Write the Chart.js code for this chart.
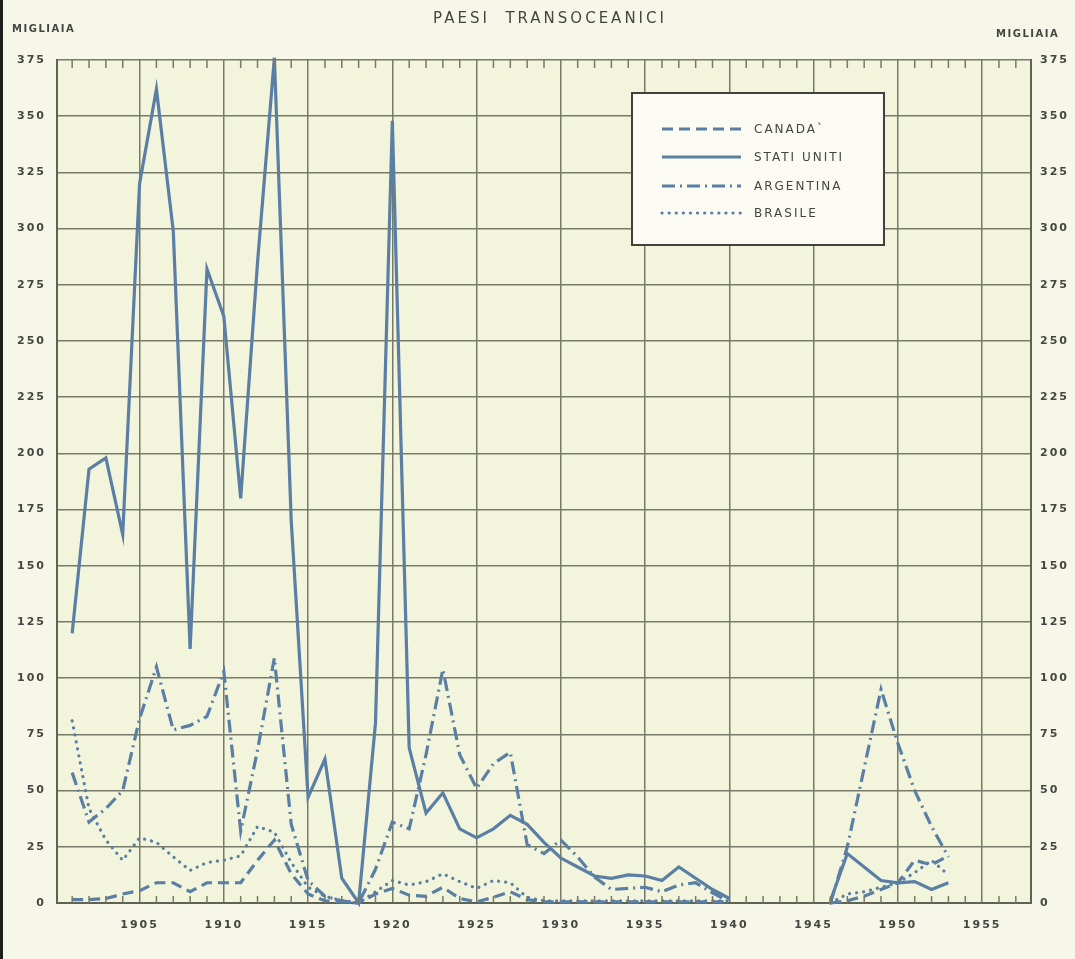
<!DOCTYPE html>
<html>
<head>
<meta charset="utf-8">
<script src="https://cdn.jsdelivr.net/npm/chart.js@4/dist/chart.umd.min.js"></script>
<style>
  html, body { margin: 0; padding: 0; background: #f6f7e8; }
  #wrap { width: 1075px; height: 959px; position: relative; }
</style>
</head>
<body>
<div id="wrap"><canvas id="chart" width="1075" height="959"></canvas></div>
<script>
// ===== DATI (migliaia di espatriati) =====
const anni = [];
for (let a = 1901; a <= 1953; a++) anni.push(a);

const canada = [1.5, 1.5, 2, 4, 5.5, 9, 9, 5, 9, 9,
  9, 19, 28, 13, 4, 1, 0.5, 0, 4, 6.5,
  3.5, 3, 7, 2, 0.5, 2.5, 5, 1.5, 0.5, 0.5,
  0.5, 0.5, 0.5, 0.5, 0.5, 0.5, 0.5, 0.5, 0.5, 0.5,
  null, null, null, null, null,
  0, 1, 3, 6, 9, 19, 17, 21];

const statiUniti = [120, 193, 198, 164, 320, 362, 299, 113, 282, 261,
  180, 285, 376, 170, 47, 64, 11, 0, 80, 348,
  69, 40, 49, 33, 29, 33, 39, 35, 27, 20,
  16, 12, 11, 12.5, 12, 10, 16, 11, 6, 2,
  null, null, null, null, null,
  1, 22, 16, 10, 9, 9.5, 6, 9];

const argentina = [58, 36, 42, 50, 82, 105, 77, 79, 83, 103,
  32, 68, 109, 35, 10, 3, 1, 0, 15, 36,
  33, 66, 104, 66, 51, 62, 67, 26, 22, 28,
  20.5, 11.5, 6, 6.5, 7, 5, 8, 9, 4.5, 0.5,
  null, null, null, null, null,
  0, 25, 60, 95, 71, 50, 34, 20.5];

const brasile = [81, 42, 28, 19, 29, 27, 20.5, 14.5, 18, 19,
  21, 34, 31.5, 18, 7, 3, 1, 0, 5, 10,
  8, 9.5, 13, 9.5, 6.5, 10, 9, 2.5, 1, 1,
  1, 1, 1, 1, 1, 1, 1, 1, 1, 1,
  null, null, null, null, null,
  0, 4, 5, 7, 9, 13.5, 19, 12.5];

const xTicks = [1905, 1910, 1915, 1920, 1925, 1930, 1935, 1940, 1945, 1950, 1955];
const yTicks = [0, 25, 50, 75, 100, 125, 150, 175, 200, 225, 250, 275, 300, 325, 350, 375];

const BLU = "#5a7ea4";
const GRIGLIA = "#777a68";
const TESTO = "#454543";
const FONT = "'DejaVu Sans', sans-serif";

const punti = arr => anni.map((a, i) => ({ x: a, y: arr[i] }));

const serie = [
  { label: "CANADA`", data: punti(canada), borderDash: [11, 6], borderCapStyle: "butt" },
  { label: "STATI UNITI", data: punti(statiUniti), borderDash: [], borderCapStyle: "butt" },
  { label: "ARGENTINA", data: punti(argentina), borderDash: [13, 5, 2, 5], borderCapStyle: "butt" },
  { label: "BRASILE", data: punti(brasile), borderDash: [0.1, 7], borderCapStyle: "round" }
].map(s => Object.assign({
  borderColor: BLU, borderWidth: 3.2, pointRadius: 0, tension: 0,
  spanGaps: false, clip: false, fill: false
}, s));

// ===== PLUGIN: sfondo, tacche, testi, legenda =====
const decorazioni = {
  id: "decorazioni",
  beforeDraw(chart) {
    const { ctx, chartArea: a } = chart;
    ctx.save();
    ctx.fillStyle = "#f2f5db";
    ctx.fillRect(a.left, a.top, a.right - a.left, a.bottom - a.top);
    ctx.restore();
    ctx.letterSpacing = "2px";
  },
  afterDraw(chart) {
    const { ctx, chartArea: a } = chart;
    const x = chart.scales.x;
    ctx.save();

    // tacche annuali in alto e in basso
    ctx.strokeStyle = GRIGLIA;
    ctx.lineWidth = 1.5;
    for (let yr = 1901; yr <= 1957; yr++) {
      if (yr % 5 === 0) continue;
      const px = x.getPixelForValue(yr);
      ctx.beginPath();
      ctx.moveTo(px, a.top); ctx.lineTo(px, a.top + 8);
      ctx.moveTo(px, a.bottom); ctx.lineTo(px, a.bottom - 7);
      ctx.stroke();
    }

    // titolo ed etichette delle unità
    ctx.fillStyle = TESTO;
    ctx.textBaseline = "middle";
    ctx.letterSpacing = "3px";
    ctx.font = "15px " + FONT;
    ctx.textAlign = "center";
    ctx.fillText("PAESI  TRANSOCEANICI", 550, 19);
    ctx.letterSpacing = "1.5px";
    ctx.font = "bold 10px " + FONT;
    ctx.textAlign = "left";
    ctx.fillText("MIGLIAIA", 12, 29);
    ctx.fillText("MIGLIAIA", 996, 34);

    // legenda
    const bx = 632, by = 93, bw = 252, bh = 152;
    ctx.fillStyle = "#fbfbf4";
    ctx.fillRect(bx, by, bw, bh);
    ctx.strokeStyle = "#3f413a";
    ctx.lineWidth = 2;
    ctx.strokeRect(bx, by, bw, bh);
    const righe = [129, 157, 186, 213];
    chart.data.datasets.forEach((d, i) => {
      const y = righe[i];
      ctx.strokeStyle = d.borderColor;
      ctx.lineWidth = 3.2;
      ctx.lineCap = d.borderCapStyle;
      ctx.setLineDash(d.borderDash);
      ctx.beginPath();
      ctx.moveTo(662, y); ctx.lineTo(741, y);
      ctx.stroke();
      ctx.setLineDash([]);
      ctx.fillStyle = TESTO;
      ctx.letterSpacing = "2px";
      ctx.font = "12px " + FONT;
      ctx.fillText(d.label, 754, y + 1);
    });

    // bordo scuro della scansione
    ctx.fillStyle = "#1e1e1c";
    ctx.fillRect(0, 0, 3, 959);
    ctx.restore();
  }
};

const tickFont = { family: FONT, size: 11, weight: "bold" };

new Chart(document.getElementById("chart"), {
  type: "line",
  data: { datasets: serie },
  options: {
    responsive: false,
    animation: false,
    layout: { padding: { top: 60, left: 0, right: 0, bottom: 0 } },
    plugins: { legend: { display: false }, tooltip: { enabled: false } },
    scales: {
      x: {
        type: "linear",
        min: 1900.1, max: 1957.9,
        afterBuildTicks: s => { s.ticks = xTicks.map(v => ({ value: v })); },
        afterFit: s => { s.height = 56; },
        grid: { color: GRIGLIA, lineWidth: 1.5, drawTicks: false },
        border: { color: "#5f6354", width: 2 },
        ticks: { color: TESTO, font: tickFont, padding: 16, maxRotation: 0, autoSkip: false,
          callback: v => String(v) }
      },
      y: {
        position: "left",
        min: 0, max: 375,
        afterBuildTicks: s => { s.ticks = yTicks.map(v => ({ value: v })); },
        afterFit: s => { s.width = 57; },
        grid: { color: GRIGLIA, lineWidth: 1.5, drawTicks: false },
        border: { color: "#5f6354", width: 2 },
        ticks: { color: TESTO, font: tickFont, padding: 11 }
      },
      y2: {
        position: "right",
        min: 0, max: 375,
        afterBuildTicks: s => { s.ticks = yTicks.map(v => ({ value: v })); },
        afterFit: s => { s.width = 44; },
        grid: { display: false, drawTicks: false },
        border: { color: "#5f6354", width: 2 },
        ticks: { color: TESTO, font: tickFont, padding: 9 }
      }
    }
  },
  plugins: [decorazioni]
});
</script>
</body>
</html>
